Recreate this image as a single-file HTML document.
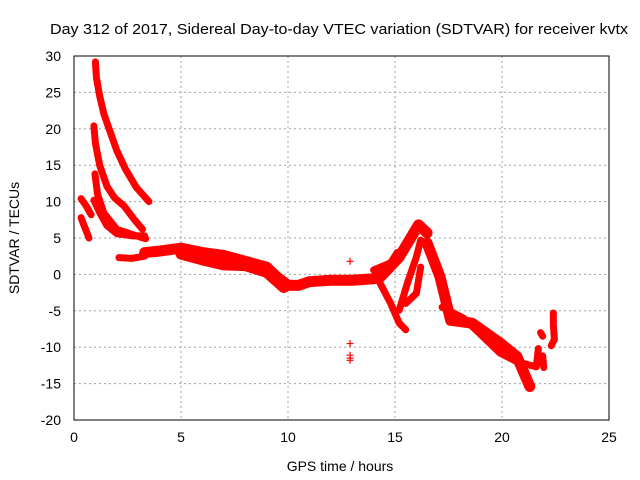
<!DOCTYPE html>
<html><head><meta charset="utf-8"><style>
body{margin:0;background:#fff;}
svg{display:block;font-family:"Liberation Sans",sans-serif;}
</style></head><body>
<svg id="chart" width="640" height="480">
<rect width="640" height="480" fill="#fff"/>
<text x="50" y="34" font-size="15" textLength="578" lengthAdjust="spacingAndGlyphs">Day 312 of 2017, Sidereal Day-to-day VTEC variation (SDTVAR) for receiver kvtx</text>
<text x="340" y="471" font-size="14" text-anchor="middle">GPS time / hours</text>
<text x="19" y="238" font-size="14" text-anchor="middle" transform="rotate(-90 19 238)">SDTVAR / TECUs</text>
<g id="grid"></g><g id="ticks"></g><g id="marks"></g>
<rect x="74" y="56" width="535" height="364" fill="none" stroke="#000" stroke-width="1"/>
</svg>
<script>
const xTicks=[0,5,10,15,20,25];
const yTicks=[-20,-15,-10,-5,0,5,10,15,20,25,30];
const trackA=[[1.0,29.2],[1.05,27],[1.2,24.5],[1.4,22],[1.7,19.5],[2.0,17],[2.4,14.5],[2.9,12],[3.5,10]];
const trackB=[[0.93,20.4],[1.0,18],[1.2,15],[1.54,12.1],[1.9,10.5],[2.34,9.4],[2.8,7.6],[3.2,6.2]];
const trackC=[[0.98,13.8],[1.1,11],[1.4,8.4],[2.0,6.2],[2.7,5.5],[3.35,4.9]];
const trackD=[[0.33,10.4],[0.55,9.5],[0.8,8.2]];
const trackE=[[0.33,7.8],[0.5,6.5],[0.7,5.0]];
const trackF=[[0.93,10.2],[1.2,8.5],[1.54,6.7],[2.0,5.6],[2.7,5.3],[3.3,5.3]];
const trackG=[[2.1,2.3],[2.7,2.2],[3.3,2.5]];
const trackMain=[[3.3,3.0],[4.0,3.2],[5.0,3.6],[6.0,3.0],[7.0,2.6],[8.0,1.8],[9.0,1.0],[9.5,-0.4],[10.0,-1.5],[10.5,-1.5],[11.0,-1.0],[12.0,-0.8],[13.0,-0.8],[14.0,-0.6],[14.3,-0.4],[15.2,2.4],[16.1,6.8],[16.5,5.7]];
const trackLow=[[5.0,2.8],[6.0,2.0],[7.0,1.3],[8.0,1.2],[9.0,0.3],[9.8,-1.8]];
const trackDip=[[14.3,-1.2],[14.8,-4.0],[15.2,-6.7],[15.5,-7.6]];
const trackRise=[[15.2,-4.9],[15.6,-1],[16.0,2.4],[16.2,4.7],[16.5,4.0]];
const trackRise2=[[15.5,-4.0],[16.0,-2.6],[16.2,1.0]];
const trackTail=[[14.0,0.6],[14.8,1.6],[15.1,3.0]];
const trackDesc=[[16.5,4.3],[17.1,-0.3],[17.6,-6.3],[18.6,-6.7],[19.9,-9.4],[20.7,-11.3],[21.3,-15.4]];
const trackDesc2=[[17.2,-4.5],[18.2,-6.0],[19.9,-10.8],[20.7,-12.0],[21.6,-12.7],[21.7,-10.2]];
const trackR1=[[22.4,-5.3],[22.4,-7.0],[22.45,-8.9],[22.3,-9.8]];
const trackR2=[[21.8,-8.0],[21.9,-8.5]];
const trackR3=[[21.9,-11.2],[21.95,-12.8]];
const isolated=[[12.9,1.8],[12.9,-9.5],[12.9,-11.1],[12.9,-11.5],[12.9,-11.8]];
const thinTracks=[trackA,trackB,trackC,trackD,trackE,trackF,trackG,trackDip,trackRise,trackRise2,trackTail,trackDesc2,trackR1,trackR2,trackR3];
const thickTracks=[trackMain,trackLow,trackDesc];

const X=v=>74+v*535/25;
const Y=v=>56+(30-v)*364/50;
const NS="http://www.w3.org/2000/svg";
const grid=document.getElementById('grid'),ticks=document.getElementById('ticks'),marks=document.getElementById('marks');
function mk(tag,attrs,parent){const e=document.createElementNS(NS,tag);for(const k in attrs)e.setAttribute(k,attrs[k]);parent.appendChild(e);return e;}
xTicks.forEach(t=>{
  if(t>0&&t<25){const g=mk('line',{x1:X(t),x2:X(t),y1:56,y2:420,stroke:'#a0a0a0','stroke-dasharray':'2,3'},grid);
  
  }
  const l=mk('text',{x:X(t),y:442,'font-size':14,'text-anchor':'middle'},ticks);l.textContent=t;
  
  
});
yTicks.forEach(t=>{
  if(t>-20&&t<30){const g=mk('line',{x1:74,x2:609,y1:Y(t),y2:Y(t),stroke:'#a0a0a0','stroke-dasharray':'2,3'},grid);
  
  }
  const l=mk('text',{x:61,y:Y(t)+5,'font-size':14,'text-anchor':'end'},ticks);l.textContent=t;
  
  
});
function drawTrack(tr,w){
  const p=mk('polyline',{points:tr.map(d=>X(d[0])+','+Y(d[1])).join(' '),fill:'none',stroke:'#f00','stroke-width':w,'stroke-linejoin':'round','stroke-linecap':'round'},marks);
  
  
}
thinTracks.forEach(t=>drawTrack(t,7));
thickTracks.forEach(t=>drawTrack(t,11));
isolated.forEach(d=>{
  const p=mk('path',{d:`M${X(d[0])-3.5},${Y(d[1])}h7M${X(d[0])},${Y(d[1])-3.5}v7`,stroke:'#f00','stroke-width':1.2},marks);
  
  
});
</script>
</body></html>
